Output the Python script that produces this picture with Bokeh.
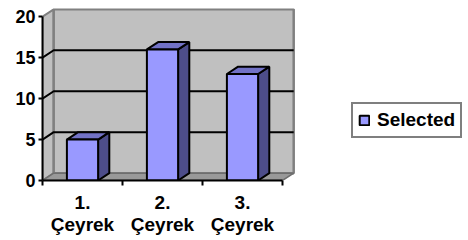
from bokeh.plotting import figure
from bokeh.models import Range1d, FixedTicker, Legend, LegendItem, ColumnDataSource
from bokeh.embed import file_html
from bokeh.resources import INLINE

# ---- data ----
categories = ["1.\nÇeyrek", "2.\nÇeyrek", "3.\nÇeyrek"]
values = [5, 16, 13]
series_name = "Selected"
y_ticks = [0, 5, 10, 15, 20]
y_max = 20

# ---- style / geometry ----
DX = 0.14      # depth offset (x units)
DY = 0.9       # depth offset (value units)
BAR_W = 0.39
FRONT = "#9999FF"
TOP = "#7272C6"
SIDE = "#4D4D8A"
WALL = "#C0C0C0"
WALL_EDGE = "#808080"
FLOOR = "#999999"
FONT = "Liberation Sans"

n = len(categories)
centers = [i + 0.5 for i in range(n)]

# frame spans the whole right part too, so that the legend sits inside it
p = figure(frame_width=426, frame_height=172,
           x_range=Range1d(0, 426 / 80), y_range=Range1d(0, y_max + 1.0),
           output_backend="svg", toolbar_location=None,
           min_border_left=42, min_border_right=0, min_border_top=8,
           min_border_bottom=60, background_fill_color="white",
           outline_line_color=None)
p.grid.visible = False

# side wall
p.patch([0, DX, DX, 0], [0, DY, y_max + DY, y_max], fill_color=WALL,
        line_color=WALL_EDGE, line_width=2)
# back wall
p.patch([DX, n + DX, n + DX, DX], [DY, DY, y_max + DY, y_max + DY],
        fill_color=WALL, line_color=WALL_EDGE, line_width=2.5)
# floor
p.patch([0, n, n + DX, DX], [0, 0, DY, DY], fill_color=FLOOR,
        line_color="#6E6E6E", line_width=1.5)

# gridlines (side wall + back wall)
grid = [t for t in y_ticks if 0 < t < y_max]
p.multi_line([[0, DX, n + DX] for t in grid], [[t, t + DY, t + DY] for t in grid],
             line_color="black", line_width=2)

# bars
lefts = [c - BAR_W / 2 for c in centers]
rights = [c + BAR_W / 2 for c in centers]
top_xs = [[l, r, r + DX, l + DX] for l, r in zip(lefts, rights)]
top_ys = [[v, v, v + DY, v + DY] for v in values]
side_xs = [[r, r + DX, r + DX, r] for r in rights]
side_ys = [[0, DY, v + DY, v] for v in values]
p.patches(side_xs, side_ys, fill_color=SIDE, line_color="black", line_width=2)
p.patches(top_xs, top_ys, fill_color=TOP, line_color="black", line_width=2)
src = ColumnDataSource(dict(left=lefts, right=rights, top=values, bottom=[0] * n))
front = p.quad(left="left", right="right", top="top", bottom="bottom", source=src,
               fill_color=FRONT, line_color="black", line_width=2)

# axes
xa = p.xaxis[0]
xa.ticker = FixedTicker(ticks=centers, minor_ticks=list(range(n + 1)))
xa.major_label_overrides = {c: lab for c, lab in zip(centers, categories)}
xa.bounds = (0, n)
xa.major_tick_out = 0
xa.major_tick_in = 0
xa.minor_tick_out = 5
xa.minor_tick_in = 0
xa.minor_tick_line_width = 2
xa.axis_line_width = 2
xa.axis_line_color = "black"
xa.major_label_standoff = 6
xa.major_label_text_font = FONT
xa.major_label_text_font_style = "bold"
xa.major_label_text_font_size = "19px"
xa.major_label_text_line_height = 1.05
xa.major_label_text_color = "black"

ya = p.yaxis[0]
ya.ticker = FixedTicker(ticks=y_ticks, minor_ticks=[])
ya.bounds = (0, y_max)
ya.major_tick_out = 4
ya.major_tick_in = 0
ya.major_tick_line_width = 2
ya.axis_line_width = 2
ya.axis_line_color = "black"
ya.major_label_standoff = 3
ya.major_label_text_font = FONT
ya.major_label_text_font_style = "bold"
ya.major_label_text_font_size = "18px"
ya.major_label_text_color = "black"

legend = Legend(items=[LegendItem(label=series_name, renderers=[front])],
                location=(309, 42), border_line_color="black", border_line_width=2,
                background_fill_color="white", background_fill_alpha=1,
                label_text_font=FONT, label_text_font_style="bold",
                label_text_font_size="19px", label_text_color="black",
                glyph_width=12, glyph_height=12,
                padding=5, margin=0, label_standoff=7, label_height=20, spacing=0)
p.add_layout(legend, "center")

open("out.html", "w").write(file_html(p, INLINE))
